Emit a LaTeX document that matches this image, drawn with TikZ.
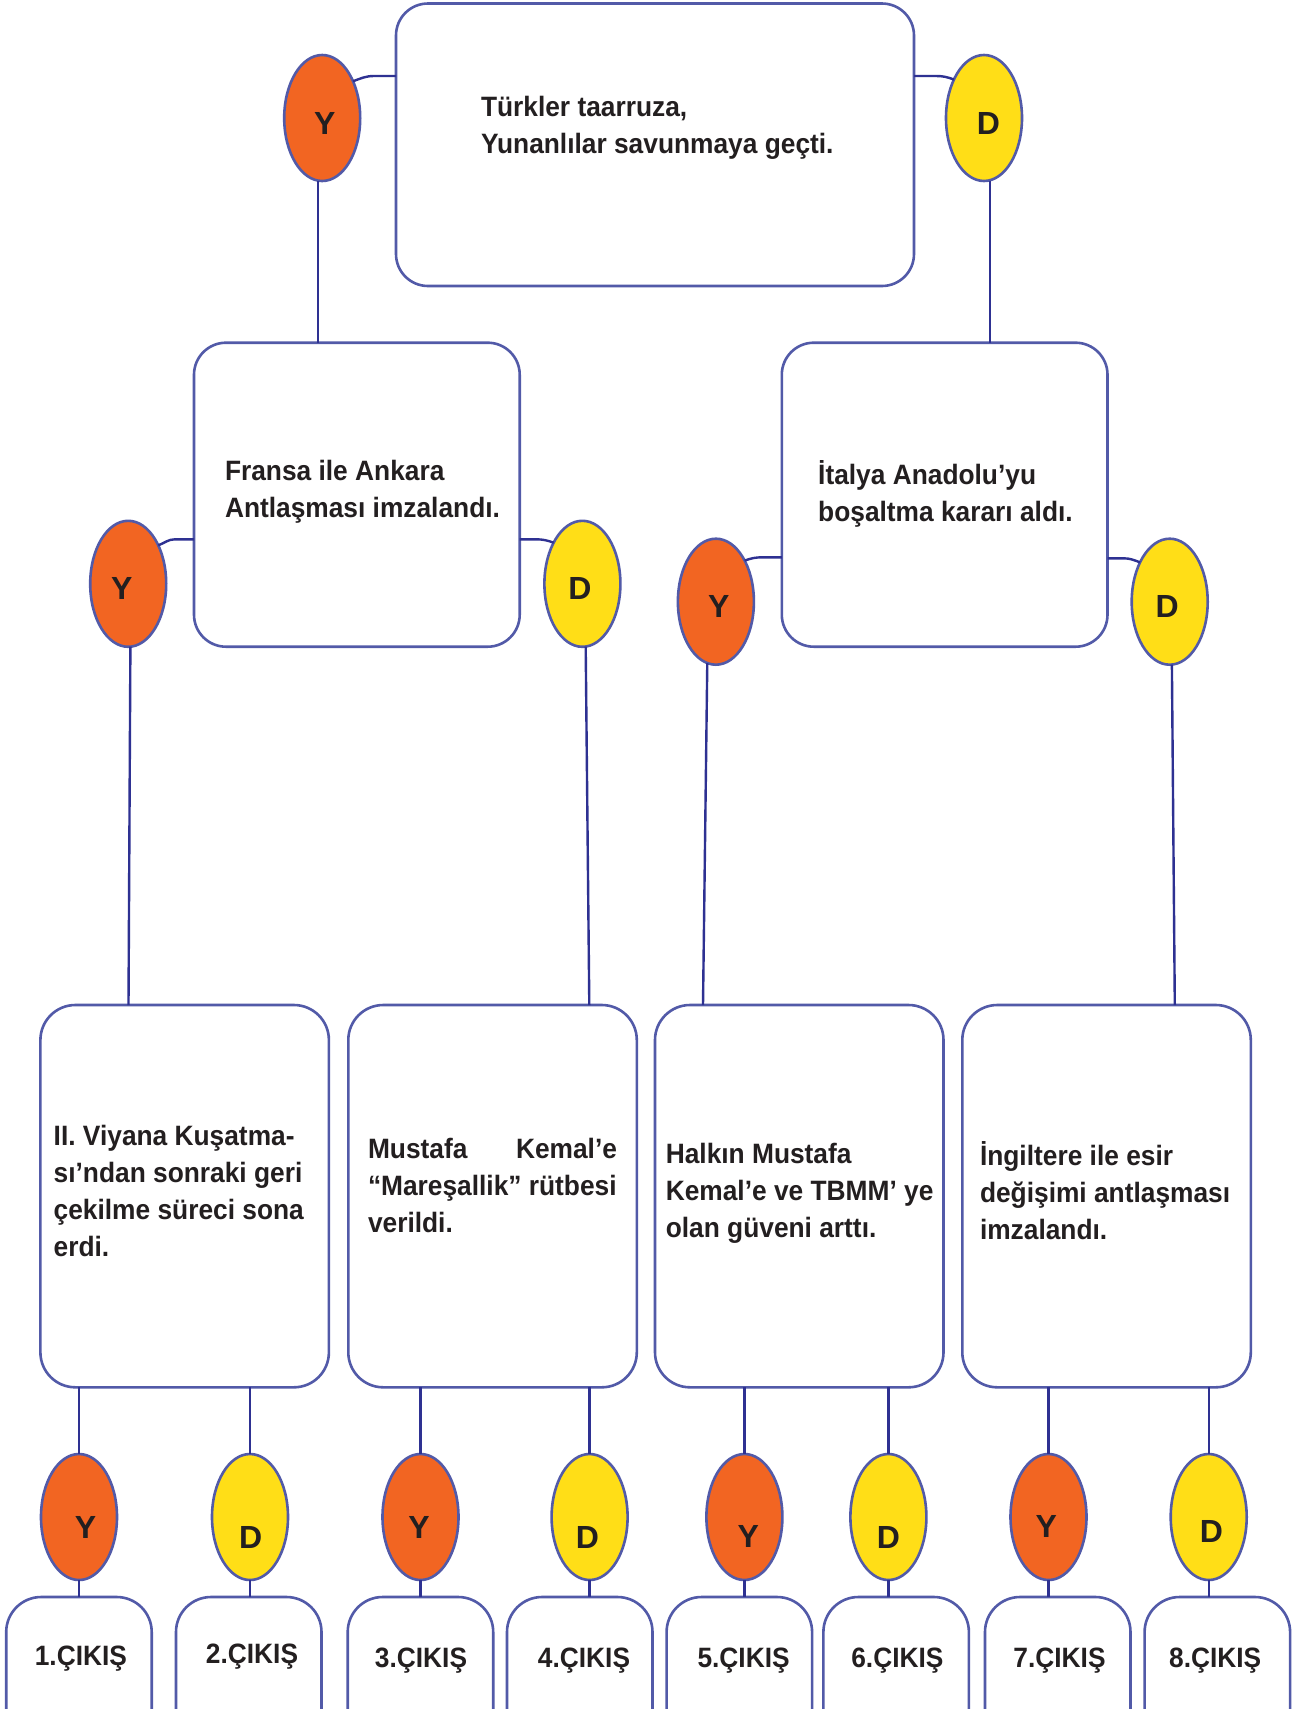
\documentclass[tikz,border=0pt]{standalone}
\usepackage{fontspec}
\setmainfont{Liberation Sans}[FakeStretch=0.94]
\newfontfamily\plainsans{Liberation Sans}
\usetikzlibrary{shapes.geometric}
\definecolor{bordc}{RGB}{82,90,168}
\definecolor{linec}{RGB}{46,49,146}
\definecolor{orng}{RGB}{242,101,34}
\definecolor{yell}{RGB}{255,222,23}
\definecolor{txt}{RGB}{35,31,32}
\begin{document}
\begin{tikzpicture}[x=1pt,y=1pt,
  box/.style={draw=bordc, line width=2.6pt, fill=white, rounded corners=#1, inner sep=0pt, outer sep=0pt, anchor=north west},
  box/.default=32pt,
  ell/.style={ellipse, draw=bordc, line width=2.6pt, minimum width=76pt, minimum height=126pt, inner sep=0pt, outer sep=0pt},
  yell/.style={ell, fill=orng},
  dell/.style={ell, fill=yell},
  conn/.style={draw=linec, line width=2.4pt},
  txtn/.style={inner sep=0pt, outer sep=0pt, align=left, text=txt, anchor=base west, font=\fontsize{28}{37}\selectfont\bfseries},
  lett/.style={inner sep=0pt, outer sep=0pt, text=txt, font=\plainsans\fontsize{32}{32}\selectfont\bfseries},
  outn/.style={inner sep=0pt, outer sep=0pt, text=txt, anchor=base, font=\fontsize{28}{34}\selectfont\bfseries}
]
\useasboundingbox (0,0) rectangle (1299,-1709);
\fill[white] (0,0) rectangle (1299,-1709);
\clip (0,0) rectangle (1299,-1709);

% ---------- level 1
\node[box, minimum width=518pt, minimum height=282.5pt] (bt) at (396,-3.5) {};
\node[yell] (yt) at (322.2,-118) {};
\node[dell] (dt) at (984,-118) {};

% ---------- level 2
\node[box, minimum width=325.7pt, minimum height=304pt] (bl) at (194,-342.7) {};
\node[box, minimum width=325.7pt, minimum height=304pt] (br) at (781.8,-342.7) {};
\node[yell] (yl) at (128.2,-583.8) {};
\node[dell] (dl) at (582.4,-583.8) {};
\node[yell] (yr) at (715.9,-601.7) {};
\node[dell] (dr) at (1169.7,-601.7) {};

% ---------- level 3
\foreach \n/\x in {a/40.4, b/348.3, c/655, d/962.3}
  \node[box=35pt, minimum width=288.5pt, minimum height=382.3pt] (b3\n) at (\x,-1005) {};

% ---------- level 4 ellipses
\foreach \i/\x/\s in {1/79/yell, 2/250/dell, 3/420.5/yell, 4/589.6/dell, 5/744.4/yell, 6/888.4/dell, 7/1048.5/yell, 8/1208.7/dell}
  \node[\s] (e\i) at (\x,-1517) {};

% ---------- level 5 boxes
\foreach \i/\x in {1/6.2, 2/176, 3/347.7, 4/507, 5/666.6, 6/823.4, 7/985, 8/1144.6}
  \node[box=35pt, minimum width=145.5pt, minimum height=200pt] (c\i) at (\x,-1597) {};

% ---------- connectors
\draw[conn] (bt.west |- 0,-76) -- ++(-22,0) to[out=180,in=20] (yt.50);
\draw[conn] (bt.east |- 0,-76) -- ++(22,0) to[out=0,in=160] (dt.128);
\draw[conn] (yt.south -| 318,0) -- (bl.north -| 318,0);
\draw[conn] (dt.south -| 990,0) -- (br.north -| 990,0);

\draw[conn] (bl.west |- 0,-539.3) -- ++(-19,0) to[out=180,in=20] (yl.52);
\draw[conn] (bl.east |- 0,-539.3) -- ++(16,0) to[out=0,in=160] (dl.125);
\draw[conn] (br.west |- 0,-557.3) -- ++(-19,0) to[out=180,in=20] (yr.55);
\draw[conn] (br.east |- 0,-558.3) -- ++(16,0) to[out=0,in=160] (dr.127);

\draw[conn] (yl.272) -- (b3a.north -| 128.5,0);
\draw[conn] (dl.273) -- (b3b.north -| 589.3,0);
\draw[conn] (yr.262) -- (b3c.north -| 703,0);
\draw[conn] (dr.272) -- (b3d.north -| 1174.8,0);

\draw[conn] (b3a.south -| e1) -- (e1.north);
\draw[conn] (b3a.south -| e2) -- (e2.north);
\draw[conn] (b3b.south -| e3) -- (e3.north);
\draw[conn] (b3b.south -| e4) -- (e4.north);
\draw[conn] (b3c.south -| e5) -- (e5.north);
\draw[conn] (b3c.south -| e6) -- (e6.north);
\draw[conn] (b3d.south -| e7) -- (e7.north);
\draw[conn] (b3d.south -| e8) -- (e8.north);
\foreach \i in {1,...,8}
  \draw[conn] (e\i.south) -- (e\i.south |- c\i.north);

% ---------- texts (anchor = baseline of the last line)
\node[txtn] (tt) at (481,-153.2) {Türkler taarruza,\\Yunanlılar savunmaya geçti.};
\node[txtn] (tl) at (225,-517.5) {Fransa ile Ankara\\Antlaşması imzalandı.};
\node[txtn] (tr) at (818.2,-521.8) {İtalya Anadolu’yu\\boşaltma kararı aldı.};
\node[txtn] (t3a) at (53.7,-1256.7) {II. Viyana Kuşatma-\\sı’ndan sonraki geri\\çekilme süreci sona\\erdi.};
\node[txtn] (t3b) at (368,-1232.3) {\makebox[249pt][s]{Mustafa Kemal’e}\\“Mareşallik” rütbesi\\verildi.};
\node[txtn] (t3c) at (665.8,-1237.3) {Halkın Mustafa\\Kemal’e ve TBMM’ ye\\olan güveni arttı.};
\node[txtn] (t3d) at (980,-1239) {İngiltere ile esir\\değişimi antlaşması\\imzalandı.};

% ---------- ellipse letters
\node[lett] (lyt) at (324.7,-123.3) {Y};
\node[lett] (ldt) at (988.5,-123) {D};
\node[lett] (lyl) at (121.9,-588) {Y};
\node[lett] (ldl) at (580,-588) {D};
\node[lett] (lyr) at (718.7,-606.2) {Y};
\node[lett] (ldr) at (1167.2,-606) {D};
\foreach \i/\x/\y/\l in {1/85.5/1527.2/Y, 2/250.6/1537.5/D, 3/419/1527.2/Y, 4/587.5/1537.5/D, 5/748.3/1536.2/Y, 6/888.5/1537.5/D, 7/1046.3/1526.2/Y, 8/1211.5/1531.3/D}
  \node[lett] (le\i) at (\x,-\y) {\l};

% ---------- exit labels
\foreach \i/\x/\y in {1/80.9/1665, 2/252/1663.3, 3/421/1667.3, 4/584/1667.3, 5/743.6/1667.3, 6/897.4/1667.3, 7/1059.5/1667.3, 8/1215.2/1667.3}
  \node[outn] (lc\i) at (\x,-\y) {\i.ÇIKIŞ};
\end{tikzpicture}
\end{document}
